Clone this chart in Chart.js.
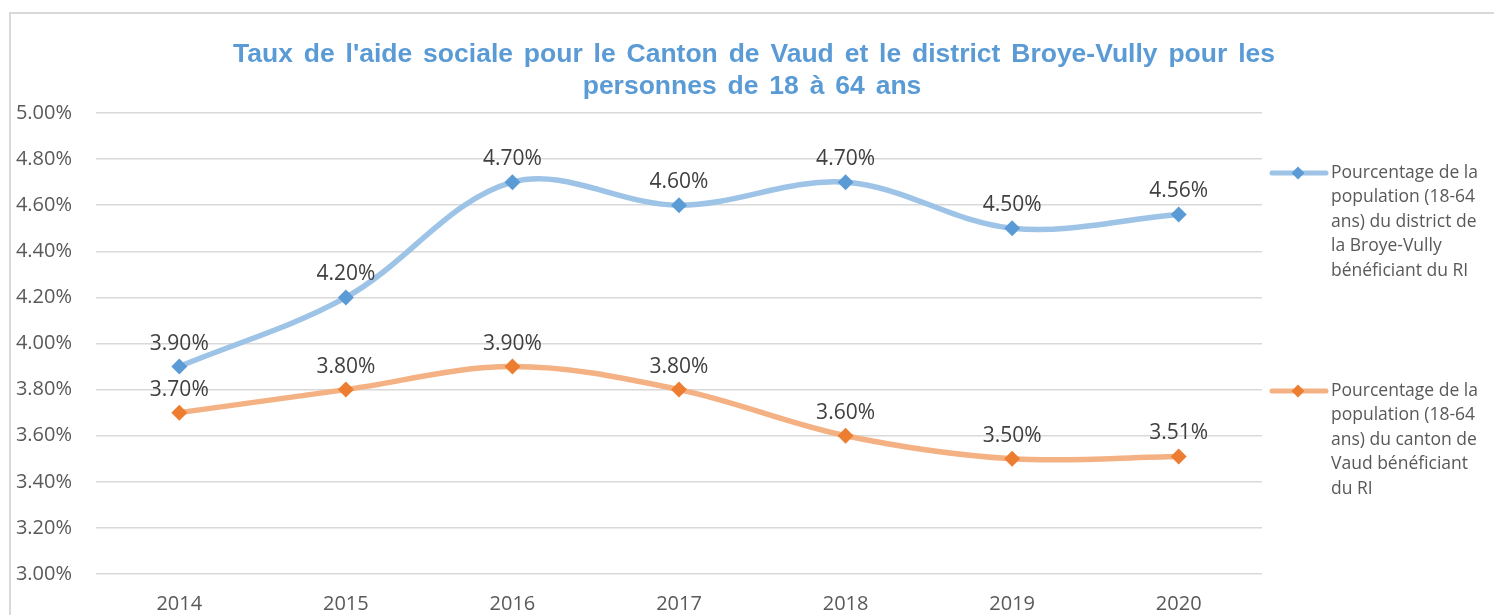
<!DOCTYPE html>
<html>
<head>
<meta charset="utf-8">
<script src="https://cdn.jsdelivr.net/npm/chart.js@4.4.1/dist/chart.umd.min.js"></script>
<style>
  html, body { margin: 0; padding: 0; background: #fff; overflow: hidden; }
  #wrap { position: absolute; left: 0; top: 0; width: 1494px; height: 615px; }
  #frame { position: absolute; left: 9px; top: 12px; width: 1600px; height: 700px; border: 2px solid #d9d9d9; box-sizing: border-box; }
  canvas { position: absolute; left: 0; top: 0; }
</style>
</head>
<body>
<div id="wrap">
  <div id="frame"></div>
  <canvas id="c" width="1494" height="615"></canvas>
</div>
<script>
const titleLines = [
  "Taux de l'aide sociale pour le Canton de Vaud et le district Broye-Vully pour les",
  "personnes de 18 à 64 ans"
];
const years = ["2014", "2015", "2016", "2017", "2018", "2019", "2020"];
const broyeVully = [3.90, 4.20, 4.70, 4.60, 4.70, 4.50, 4.56];
const vaud = [3.70, 3.80, 3.90, 3.80, 3.60, 3.50, 3.51];
const broyeLabel = "Pourcentage de la population (18-64 ans) du district de la Broye-Vully bénéficiant du RI";
const vaudLabel = "Pourcentage de la population (18-64 ans) du canton de Vaud bénéficiant du RI";
const broyeLegendLines = ["Pourcentage de la", "population (18-64", "ans) du district de", "la Broye-Vully", "bénéficiant du RI"];
const vaudLegendLines = ["Pourcentage de la", "population (18-64", "ans) du canton de", "Vaud bénéficiant", "du RI"];
const yMin = 3.0, yMax = 5.0, yStep = 0.2;

const FONT = "'Open Sans', 'Noto Sans', sans-serif";
const TXT = "#595959";

const titlePlugin = {
  id: 'titleDraw',
  afterDraw(chart) {
    const ctx = chart.ctx;
    ctx.save();
    ctx.fillStyle = "#5B9BD5";
    ctx.font = "bold 26.5px 'Liberation Sans', Arial, sans-serif";
    ctx.textAlign = "center";
    ctx.textBaseline = "alphabetic";
    try { ctx.wordSpacing = "3.5px"; } catch (e) {}
    ctx.fillText(titleLines[0], 754, 62);
    ctx.fillText(titleLines[1], 752, 94);
    ctx.restore();
  }
};

const dataLabelPlugin = {
  id: 'dataLabels',
  afterDatasetsDraw(chart) {
    const ctx = chart.ctx;
    ctx.save();
    ctx.font = "21px " + FONT;
    ctx.fillStyle = "#404040";
    ctx.textAlign = "center";
    ctx.textBaseline = "middle";
    chart.data.datasets.forEach((ds, i) => {
      const meta = chart.getDatasetMeta(i);
      meta.data.forEach((pt, j) => {
        ctx.fillText(ds.data[j].toFixed(2) + "%", pt.x, pt.y - 23);
      });
    });
    ctx.restore();
  }
};

const legendPlugin = {
  id: 'sideLegend',
  afterDraw(chart) {
    const ctx = chart.ctx;
    const items = [
      { ds: chart.data.datasets[0], lines: broyeLegendLines, y: 173 },
      { ds: chart.data.datasets[1], lines: vaudLegendLines, y: 391 }
    ];
    ctx.save();
    items.forEach(it => {
      ctx.strokeStyle = it.ds.borderColor;
      ctx.lineWidth = 5;
      ctx.lineCap = "round";
      ctx.beginPath();
      ctx.moveTo(1272, it.y);
      ctx.lineTo(1326, it.y);
      ctx.stroke();
      ctx.fillStyle = it.ds.pointBackgroundColor;
      ctx.beginPath();
      ctx.moveTo(1298, it.y - 6.5);
      ctx.lineTo(1304.5, it.y);
      ctx.lineTo(1298, it.y + 6.5);
      ctx.lineTo(1291.5, it.y);
      ctx.closePath();
      ctx.fill();
      ctx.fillStyle = TXT;
      ctx.font = "17.5px " + FONT;
      ctx.textAlign = "left";
      ctx.textBaseline = "middle";
      it.lines.forEach((ln, k) => {
        ctx.fillText(ln, 1331, it.y + k * 24.5);
      });
    });
    ctx.restore();
  }
};

new Chart(document.getElementById('c'), {
  type: 'line',
  data: {
    labels: years,
    datasets: [
      {
        label: broyeLabel,
        data: broyeVully,
        borderColor: "#9DC3E6",
        backgroundColor: "#9DC3E6",
        borderWidth: 5.5,
        pointStyle: 'rectRot',
        pointRadius: 8,
        pointHoverRadius: 8,
        pointBackgroundColor: "#5B9BD5",
        pointBorderColor: "#5B9BD5",
        pointBorderWidth: 0,
        tension: 0.35,
        fill: false
      },
      {
        label: vaudLabel,
        data: vaud,
        borderColor: "#F4B183",
        backgroundColor: "#F4B183",
        borderWidth: 5.5,
        pointStyle: 'rectRot',
        pointRadius: 8,
        pointHoverRadius: 8,
        pointBackgroundColor: "#ED7D31",
        pointBorderColor: "#ED7D31",
        pointBorderWidth: 0,
        tension: 0.35,
        fill: false
      }
    ]
  },
  options: {
    responsive: false,
    animation: false,
    events: [],
    layout: { padding: { top: 113, right: 232, bottom: 0, left: 0 } },
    plugins: {
      legend: { display: false },
      title: { display: false },
      tooltip: { enabled: false }
    },
    scales: {
      x: {
        offset: true,
        grid: { display: false, drawTicks: false },
        border: { display: false },
        ticks: { color: TXT, font: { family: FONT, size: 20 }, padding: 18, maxRotation: 0 },
        afterFit(s) { s.height = 41; }
      },
      y: {
        min: yMin,
        max: yMax,
        grid: { color: "#d9d9d9", lineWidth: 1.5, drawTicks: false },
        border: { display: false },
        ticks: {
          stepSize: yStep,
          color: TXT,
          font: { family: FONT, size: 20 },
          padding: 24,
          callback: v => v.toFixed(2) + "%"
        },
        afterFit(s) { s.width = 96; }
      }
    }
  },
  plugins: [titlePlugin, dataLabelPlugin, legendPlugin]
});
</script>
</body>
</html>
